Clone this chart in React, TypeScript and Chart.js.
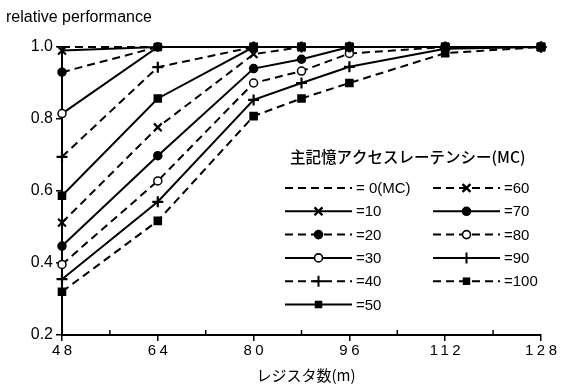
import React, { useEffect, useRef } from "react";
import { Chart, registerables } from "chart.js";
Chart.register(...registerables);

// ---- data ----
const registers = [48, 64, 80, 88, 96, 112, 128];
const mc0 = [1.0, 1.0, 1.0, 1.0, 1.0, 1.0, 1.0];
const mc10 = [0.99, 1.0, 1.0, 1.0, 1.0, 1.0, 1.0];
const mc20 = [0.93, 1.0, 1.0, 1.0, 1.0, 1.0, 1.0];
const mc30 = [0.815, 1.0, 1.0, 1.0, 1.0, 1.0, 1.0];
const mc40 = [0.695, 0.944, 1.0, 1.0, 1.0, 1.0, 1.0];
const mc50 = [0.587, 0.857, 1.0, 1.0, 1.0, 1.0, 1.0];
const mc60 = [0.512, 0.777, 0.98, 1.0, 1.0, 1.0, 1.0];
const mc70 = [0.447, 0.698, 0.94, 0.966, 1.0, 1.0, 1.0];
const mc80 = [0.396, 0.628, 0.9, 0.933, 0.982, 1.0, 1.0];
const mc90 = [0.355, 0.57, 0.853, 0.9, 0.945, 0.995, 1.0];
const mc100 = [0.32, 0.517, 0.808, 0.857, 0.9, 0.983, 1.0];
const seriesValues = [mc0, mc10, mc20, mc30, mc40, mc50, mc60, mc70, mc80, mc90, mc100];
const seriesLabels = ["= 0(MC)", "=10", "=20", "=30", "=40", "=50", "=60", "=70", "=80", "=90", "=100"];
const xTickLabels = ["48", "64", "80", "96", "112", "128"];
const xMinorTicks = [56, 72, 88, 104, 120];
const yAxisTitle = "relative performance";
const xAxisTitle = "レジスタ数(m)";
const legendTitle = "主記憶アクセスレーテンシー(MC)";

// ---- styles ----
type Sty = { dashed: boolean; marker: string; filled: boolean };
const styles: Sty[] = [
  { dashed: true, marker: "none", filled: true },
  { dashed: false, marker: "crossRot", filled: true },
  { dashed: true, marker: "circle", filled: true },
  { dashed: false, marker: "circle", filled: false },
  { dashed: true, marker: "cross", filled: true },
  { dashed: false, marker: "rect", filled: true },
  { dashed: true, marker: "crossRot", filled: true },
  { dashed: false, marker: "circle", filled: true },
  { dashed: true, marker: "circle", filled: false },
  { dashed: false, marker: "cross", filled: true },
  { dashed: true, marker: "rect", filled: true },
];
const DASH = [8, 5];
const LW = 2;
const LATIN = "'Liberation Sans', Arial, sans-serif";
const CJK = "'Noto Sans CJK JP', 'Noto Sans', sans-serif";

function markerRadius(m: string) {
  if (m === "none") return 0;
  if (m === "cross" || m === "crossRot") return 5.5;
  if (m === "rect") return 5;
  return 4;
}

function drawMarker(ctx: CanvasRenderingContext2D, m: string, filled: boolean, x: number, y: number) {
  ctx.save();
  ctx.setLineDash([]);
  ctx.strokeStyle = "#000";
  ctx.fillStyle = filled ? "#000" : "#fff";
  ctx.lineWidth = 1.6;
  const r = markerRadius(m);
  if (m === "circle") {
    ctx.beginPath();
    ctx.arc(x, y, r, 0, Math.PI * 2);
    ctx.fill();
    ctx.stroke();
  } else if (m === "rect") {
    const s = r * 0.75;
    ctx.fillRect(x - s, y - s, 2 * s, 2 * s);
  } else if (m === "cross") {
    ctx.lineWidth = 2;
    ctx.beginPath();
    ctx.moveTo(x - r, y);
    ctx.lineTo(x + r, y);
    ctx.moveTo(x, y - r);
    ctx.lineTo(x, y + r);
    ctx.stroke();
  } else if (m === "crossRot") {
    ctx.lineWidth = 2.4;
    const d = r * 0.72;
    ctx.beginPath();
    ctx.moveTo(x - d, y - d);
    ctx.lineTo(x + d, y + d);
    ctx.moveTo(x - d, y + d);
    ctx.lineTo(x + d, y - d);
    ctx.stroke();
  }
  ctx.restore();
}

const decorPlugin = {
  id: "decor",
  afterDraw(chart: any) {
    const ctx: CanvasRenderingContext2D = chart.ctx;
    const xs = chart.scales.x;
    const ys = chart.scales.y;
    ctx.save();
    ctx.fillStyle = "#000";
    ctx.strokeStyle = "#000";
    // chart title
    ctx.font = `16px ${LATIN}`;
    ctx.textAlign = "left";
    ctx.textBaseline = "middle";
    ctx.fillText(yAxisTitle, 6, 18);
    // x tick labels (letter spaced)
    ctx.font = `15px ${LATIN}`;
    (ctx as any).letterSpacing = "3.5px";
    ctx.textAlign = "center";
    xTickLabels.forEach((t) => {
      const px = xs.getPixelForValue(Number(t));
      ctx.fillText(t, px + 1.75, 351);
    });
    (ctx as any).letterSpacing = "0px";
    // minor ticks (pointing up)
    ctx.lineWidth = 1.5;
    const by = ys.bottom;
    xMinorTicks.forEach((v) => {
      const px = xs.getPixelForValue(v);
      ctx.beginPath();
      ctx.moveTo(px, by);
      ctx.lineTo(px, by - 5);
      ctx.stroke();
    });
    // x axis title
    ctx.font = `15px ${CJK}`;
    ctx.textAlign = "center";
    ctx.fillText(xAxisTitle, 306, 375);
    // legend
    ctx.font = `500 15.5px ${CJK}`;
    ctx.textAlign = "left";
    ctx.fillText(legendTitle, 290, 157);
    const rowY0 = 188;
    const rowH = 23.3;
    seriesLabels.forEach((lab, i) => {
      const col = i < 6 ? 0 : 1;
      const row = i < 6 ? i : i - 6;
      const x0 = col === 0 ? 285 : 433;
      const x1 = x0 + 67;
      const y = rowY0 + row * rowH;
      const st = styles[i];
      ctx.save();
      ctx.lineWidth = LW;
      ctx.setLineDash(st.dashed ? DASH : []);
      ctx.beginPath();
      ctx.moveTo(x0, y);
      ctx.lineTo(x1, y);
      ctx.stroke();
      ctx.restore();
      drawMarker(ctx, st.marker, st.filled, (x0 + x1) / 2, y);
      ctx.font = `15px ${LATIN}`;
      ctx.fillText(lab, x1 + 4, y + 1);
    });
    ctx.restore();
  },
};

export default function App() {
  const ref = useRef<HTMLCanvasElement | null>(null);
  useEffect(() => {
    if (!ref.current) return;
    const datasets = seriesValues.map((vals, i) => {
      const st = styles[i];
      return {
        label: seriesLabels[i],
        data: registers.map((x, j) => ({ x, y: vals[j] })),
        borderColor: "#000",
        borderWidth: LW,
        borderDash: st.dashed ? DASH : [],
        pointStyle: st.marker === "none" ? false : st.marker,
        pointRadius: markerRadius(st.marker),
        pointBackgroundColor: st.filled ? "#000" : "#fff",
        pointBorderColor: "#000",
        pointBorderWidth: st.marker === "cross" || st.marker === "crossRot" ? 2.2 : 1.5,
        tension: 0,
        fill: false,
        clip: false as any,
      };
    });
    const chart = new Chart(ref.current, {
      type: "line",
      data: { datasets },
      options: {
        animation: false,
        responsive: false,
        layout: { padding: { left: 0, top: 47, right: 31, bottom: 0 } },
        plugins: { legend: { display: false }, tooltip: { enabled: false }, title: { display: false } },
        scales: {
          x: {
            type: "linear",
            min: 48,
            max: 128,
            ticks: { stepSize: 16, display: false },
            grid: { drawOnChartArea: false, drawTicks: true, tickLength: 6, color: "#000", lineWidth: 1.5 },
            border: { color: "#000", width: 2 },
            afterFit: (s: any) => {
              s.height = 51;
            },
          },
          y: {
            min: 0.2,
            max: 1.0,
            ticks: {
              stepSize: 0.2,
              color: "#000",
              padding: 3,
              font: { family: LATIN, size: 16 },
              callback: (v: any) => Number(v).toFixed(1),
            },
            grid: { drawOnChartArea: false, drawTicks: true, tickLength: 6, color: "#000", lineWidth: 1.5 },
            border: { color: "#000", width: 2 },
            afterFit: (s: any) => {
              s.width = 62;
            },
          },
        },
      },
      plugins: [decorPlugin],
    });
    return () => chart.destroy();
  }, []);
  return (
    <div style={{ position: "absolute", left: 0, top: 0, width: 572, height: 386, background: "#fff" }}>
      <canvas ref={ref} width={572} height={386} style={{ display: "block" }} />
    </div>
  );
}
